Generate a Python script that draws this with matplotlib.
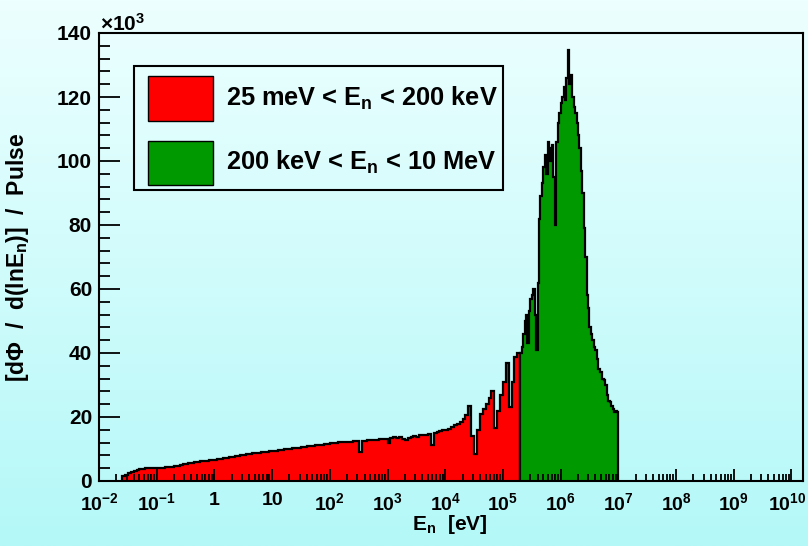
import numpy as np
import matplotlib.pyplot as plt
import matplotlib.transforms as mtransforms
from matplotlib.colors import LinearSegmentedColormap
from matplotlib.patches import Rectangle
from matplotlib.ticker import FixedLocator, FixedFormatter, LogLocator, MultipleLocator, NullFormatter

plt.rcParams['font.family'] = ['Liberation Sans', 'DejaVu Sans']
plt.rcParams['font.weight'] = 'bold'
plt.rcParams['mathtext.fontset'] = 'custom'
plt.rcParams['mathtext.rm'] = 'Liberation Sans:bold'
plt.rcParams['mathtext.it'] = 'Liberation Sans:bold'
plt.rcParams['mathtext.bf'] = 'Liberation Sans:bold'
plt.rcParams['mathtext.default'] = 'rm'

# neutron flux histogram vs log10(E/eV)
# low part: 0.05 decade bins from 25 meV, fast part: 0.025 decade bins up to 10 MeV
log_e_min, log_e_cut, log_e_max = -1.6, 5.3, 7.0

# 25 meV < E < 200 keV (units of 10^3 per pulse)
flux_low = [
    1.6, 2.0, 2.4, 2.8, 3.2, 3.5, 3.7, 3.9, 4.0, 4.1, 4.1, 4.1,
    4.2, 4.2, 4.2, 4.3, 4.3, 4.4, 4.6, 4.8, 5.0, 5.2, 5.4, 5.6, 5.7, 5.9, 6.0, 6.1, 6.3, 6.4, 6.5, 6.6,
    6.7, 6.8, 6.95, 7.1, 7.25, 7.4, 7.55, 7.7, 7.85, 8.0, 8.15, 8.3, 8.45, 8.6, 8.7, 8.8, 8.95, 9.05, 9.15, 9.3,
    9.4, 9.5, 9.65, 9.75, 9.9, 10.0, 10.1, 10.2, 10.35, 10.45, 10.6, 10.7, 10.8, 10.9, 11.0, 11.15, 11.3, 11.4, 11.55, 11.7,
    11.8, 11.9, 12.0, 12.1, 12.1, 12.2, 12.3, 12.3, 12.4, 12.5, 9.2, 12.4, 12.6, 12.7, 12.8, 12.8, 12.9, 13.0, 13.1, 13.2,
    11.8, 13.4, 13.6, 13.5, 13.7, 13.2, 12.9, 13.4, 13.8, 14.0, 13.9, 14.3, 14.5, 14.4, 14.8, 11.2, 14.9, 15.2, 15.5, 15.8,
    16.0, 16.4, 16.9, 17.4, 17.8, 18.5, 19.5, 20.5, 23.5, 14.0, 8.4, 16.0, 21.0, 22.5, 24.0, 26.0, 28.0, 16.5, 22.0, 27.0,
    31.0, 37.0, 23.0, 31.0, 38.8, 40.0,
]
# 200 keV < E < 10 MeV
flux_fast = [
    40, 42, 46, 50, 52, 43, 53, 57, 58, 60, 52, 41,
    62, 82, 89, 93, 98, 102, 96, 106, 100, 104, 105, 95, 80, 106,
    112, 115, 118, 120, 123, 119, 126, 134.7, 124, 127, 120, 117, 115, 112,
    108, 104, 97, 90, 79, 70, 58, 54, 48, 46, 44, 42, 41, 38, 35, 34,
    34, 32, 31.6, 30, 27, 25, 24.7, 23.5, 22.5, 21.6, 21.8, 21.6,
]

xtick_labels = [r'$10^{-2}$', r'$10^{-1}$', '1', '10'] + [r'$10^{%d}$' % k for k in range(2, 11)]
ytick_labels = ['0', '20', '40', '60', '80', '100', '120', '140']
legend_labels = ['25 meV < $E_n$ < 200 keV', '200 keV < $E_n$ < 10 MeV']

W, H = 808, 546
fig = plt.figure(figsize=(W / 100, H / 100), dpi=100)

# pale cyan vertical gradient behind everything
bg = fig.add_axes([0, 0, 1, 1], zorder=-10)
cmap = LinearSegmentedColormap.from_list('bg', ['#edffff', '#b4f8f8'])
bg.imshow(np.linspace(0, 1, 256).reshape(-1, 1), cmap=cmap, aspect='auto')
bg.axis('off')

ax = fig.add_axes([99 / W, 1 - 481 / H, (803 - 99) / W, (481 - 33) / H])
ax.set_facecolor('none')

edges_low = np.logspace(log_e_min, log_e_cut, len(flux_low) + 1)
edges_fast = np.logspace(log_e_cut, log_e_max, len(flux_fast) + 1)
ax.stairs(flux_low, edges_low, fill=True, facecolor='#ff0000',
          edgecolor='black', linewidth=1.6)
ax.stairs(flux_fast, edges_fast, fill=True, facecolor='#009900',
          edgecolor='black', linewidth=1.6)

ax.set_xscale('log')
ax.set_xlim(1e-2, 10 ** 10.2)
ax.set_ylim(0, 140)
ax.set_axisbelow(False)

ax.xaxis.set_major_locator(FixedLocator(10.0 ** np.arange(-2, 11)))
ax.xaxis.set_major_formatter(FixedFormatter(xtick_labels))
ax.xaxis.set_minor_locator(LogLocator(base=10, subs=np.arange(2, 10), numticks=100))
ax.xaxis.set_minor_formatter(NullFormatter())
ax.yaxis.set_major_locator(FixedLocator(np.arange(0, 141, 20)))
ax.yaxis.set_major_formatter(FixedFormatter(ytick_labels))
ax.yaxis.set_minor_locator(MultipleLocator(4))

for sp in ax.spines.values():
    sp.set_linewidth(1.5)
ax.tick_params(which='both', direction='in', top=False, right=False, width=1.3)
ax.tick_params(axis='x', which='major', length=9, pad=8, labelsize=14)
ax.tick_params(axis='x', which='minor', length=5)
ax.tick_params(axis='y', which='major', length=15, pad=5, labelsize=15)
ax.tick_params(axis='y', which='minor', length=8)

# keep the last x label inside the canvas
shift = mtransforms.ScaledTranslation(-4 / 100, 0, fig.dpi_scale_trans)
last = ax.get_xticklabels()[-1]
last.set_transform(last.get_transform() + shift)

fig.text(100 / W, 1 - 31 / H, r'$\times10^{3}$', fontsize=15, va='baseline', ha='left')
fig.text(450 / W, 1 - 524 / H, r'$E_n$  [eV]', fontsize=15, ha='center', va='center')
fig.text(18 / W, 1 - 257 / H, r'[d$\Phi$  /  d(ln$E_n$)]  /  Pulse', fontsize=16.5,
         rotation=90, ha='center', va='center')

# legend box
def px_rect(x0, y0, x1, y1, **kw):
    r = Rectangle((x0 / W, 1 - y1 / H), (x1 - x0) / W, (y1 - y0) / H,
                  transform=fig.transFigure, **kw)
    fig.add_artist(r)

px_rect(134, 66, 503, 190, facecolor='none', edgecolor='black', linewidth=1.5)
px_rect(148, 76, 213, 121, facecolor='#ff0000', edgecolor='black', linewidth=1.0)
px_rect(148, 141, 213, 185, facecolor='#009900', edgecolor='black', linewidth=1.0)
fig.text(226 / W, 1 - 98 / H, legend_labels[0], fontsize=18.3, va='center', ha='left')
fig.text(226 / W, 1 - 162 / H, legend_labels[1], fontsize=18.3, va='center', ha='left')

fig.savefig('out.png', dpi=100)
